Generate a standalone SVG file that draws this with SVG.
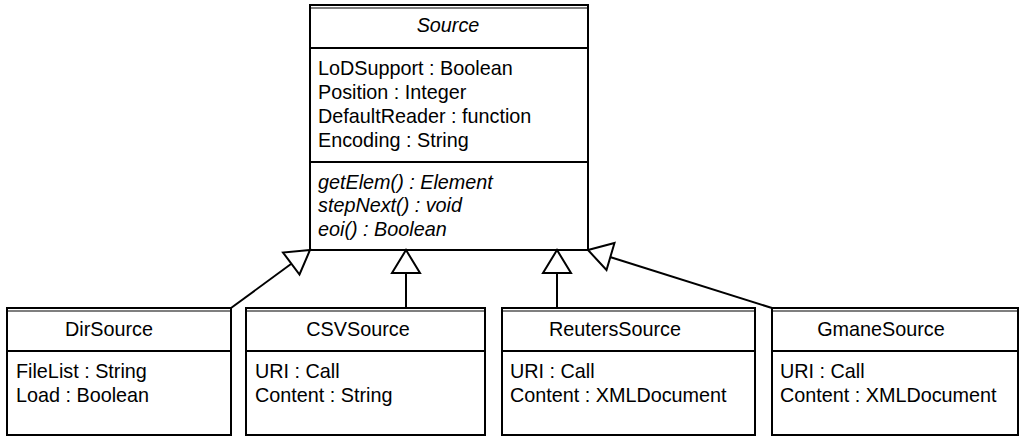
<svg xmlns="http://www.w3.org/2000/svg" width="1029" height="440" viewBox="0 0 1029 440">
<style>
.box{fill:#fff;stroke:#000;stroke-width:2}
.sep{stroke:#000;stroke-width:2}
.dbl{stroke:#000;stroke-width:1.2}
text{font-family:"Liberation Sans",Arial,sans-serif;font-size:19.8px;fill:#000}
.t{text-anchor:middle}
.i{font-style:italic}
.c{fill:none;stroke:#000;stroke-width:2}
.h{fill:#fff;stroke:#000;stroke-width:2;stroke-linejoin:miter}
</style>
<rect width="1029" height="440" fill="#fff"/>
<g id="Source">
<rect class="box" x="310" y="5" width="278" height="245"/>
<line class="dbl" x1="310" y1="8" x2="588" y2="8"/>
<line class="sep" x1="310" y1="48" x2="588" y2="48"/>
<line class="sep" x1="310" y1="162" x2="588" y2="162"/>
<text class="t i" x="448" y="32">Source</text>
<text x="318" y="75">LoDSupport : Boolean</text>
<text x="318" y="99">Position : Integer</text>
<text x="318" y="123">DefaultReader : function</text>
<text x="318" y="147">Encoding : String</text>
<text class="i" x="318" y="189">getElem() : Element</text>
<text class="i" x="318" y="212">stepNext() : void</text>
<text class="i" x="318" y="236">eoi() : Boolean</text>
</g>
<g id="DirSource">
<rect class="box" x="7" y="308" width="224" height="127"/>
<line class="dbl" x1="7" y1="311" x2="231" y2="311"/>
<line class="sep" x1="7" y1="351" x2="231" y2="351"/>
<text class="t" x="109" y="336">DirSource</text>
<text x="16" y="378">FileList : String</text>
<text x="16" y="402">Load : Boolean</text>
</g>
<g id="CSVSource">
<rect class="box" x="246" y="308" width="239" height="127"/>
<line class="dbl" x1="246" y1="311" x2="485" y2="311"/>
<line class="sep" x1="246" y1="351" x2="485" y2="351"/>
<text class="t" x="358" y="336">CSVSource</text>
<text x="255" y="378">URI : Call</text>
<text x="255" y="402">Content : String</text>
</g>
<g id="ReutersSource">
<rect class="box" x="502" y="308" width="253" height="127"/>
<line class="dbl" x1="502" y1="311" x2="755" y2="311"/>
<line class="sep" x1="502" y1="351" x2="755" y2="351"/>
<text class="t" x="615" y="336">ReutersSource</text>
<text x="510" y="378">URI : Call</text>
<text x="510" y="402">Content : XMLDocument</text>
</g>
<g id="GmaneSource">
<rect class="box" x="772" y="308" width="246" height="127"/>
<line class="dbl" x1="772" y1="311" x2="1018" y2="311"/>
<line class="sep" x1="772" y1="351" x2="1018" y2="351"/>
<text class="t" x="881" y="336">GmaneSource</text>
<text x="780" y="378">URI : Call</text>
<text x="780" y="402">Content : XMLDocument</text>
</g>
<g id="connectors">
<line class="c" x1="231" y1="308" x2="291" y2="264"/>
<polygon class="h" points="310,250 283,252.5 299.5,274.5"/>
<line class="c" x1="406" y1="273" x2="406" y2="308"/>
<polygon class="h" points="406,250 392,273 420,273"/>
<line class="c" x1="557" y1="273" x2="557" y2="308"/>
<polygon class="h" points="557,250 543,273 571,273"/>
<line class="c" x1="772" y1="308" x2="610" y2="257"/>
<polygon class="h" points="588,250 614.5,243 606.5,270"/>
</g>
</svg>
